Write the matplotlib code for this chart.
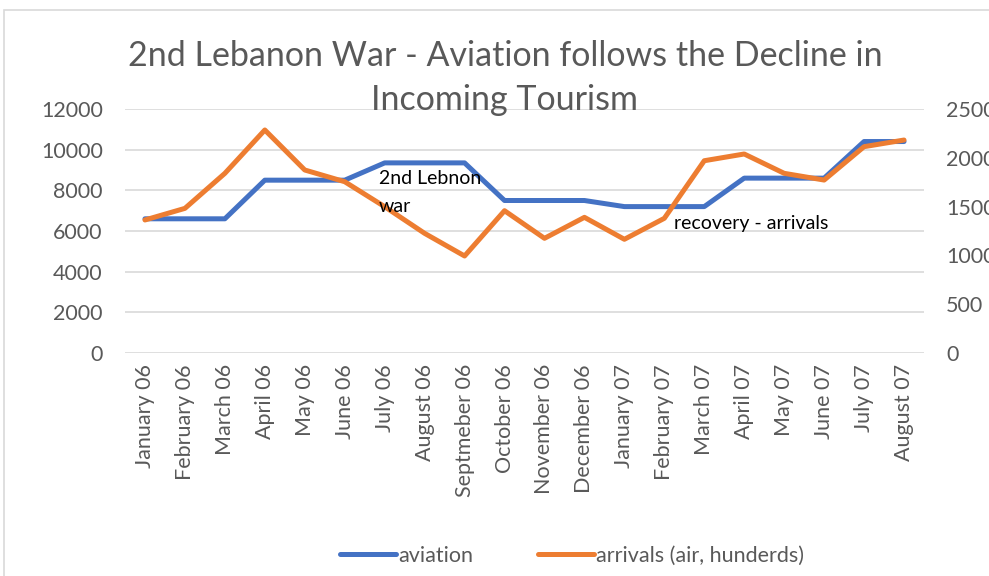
import matplotlib.pyplot as plt
from matplotlib.patches import Rectangle

months = ['January 06', 'February 06', 'March 06', 'April 06', 'May 06', 'June 06',
          'July 06', 'August 06', 'Septmeber 06', 'October 06', 'November 06',
          'December 06', 'January 07', 'February 07', 'March 07', 'April 07',
          'May 07', 'June 07', 'July 07', 'August 07']
aviation = [6600, 6600, 6600, 8500, 8500, 8500, 9350, 9350, 9350, 7500, 7500,
            7500, 7200, 7200, 7200, 8600, 8600, 8600, 10400, 10400]
arrivals = [1363, 1482, 1841, 2285, 1875, 1755, 1499, 1226, 994, 1458, 1175,
            1390, 1165, 1380, 1970, 2039, 1841, 1772, 2114, 2182]

plt.rcParams['font.family'] = ['Lato', 'DejaVu Sans']
grey = '#595959'

fig = plt.figure(figsize=(9.89, 5.76), dpi=100)
fig.patches.append(Rectangle((4 / 989, -0.1), 1.2, 1 - 10 / 576 + 0.1,
                             transform=fig.transFigure, fill=False,
                             edgecolor='#d9d9d9', linewidth=1.2))

ax1 = fig.add_axes([125 / 989, 1 - 353 / 576, (924 - 125) / 989, (353 - 109) / 576])
x = range(len(months))
ax1.plot(x, aviation, color='#4472C4', linewidth=3.6, label='aviation',
         solid_capstyle='round', zorder=3)
ax1.set_ylim(0, 12000)
ax1.set_xlim(-0.5, len(months) - 0.5)
ax1.set_yticks(range(0, 12001, 2000))
ax1.yaxis.grid(True, color='#d9d9d9', linewidth=1.2)
ax1.set_axisbelow(True)
for s in ax1.spines.values():
    s.set_visible(False)
ax1.set_xticks(list(x))
ax1.set_xticklabels(months, rotation=90, color=grey)
ax1.tick_params(axis='both', length=0, labelsize=15.5, labelcolor=grey)
ax1.tick_params(axis='y', pad=16)
ax1.tick_params(axis='x', pad=8)

ax2 = ax1.twinx()
ax2.plot(x, arrivals, color='#ED7D31', linewidth=3.6, label='arrivals (air, hunderds)',
         solid_capstyle='round', zorder=4)
ax2.set_ylim(0, 2500)
ax2.set_yticks(range(0, 2501, 500))
for s in ax2.spines.values():
    s.set_visible(False)
ax2.tick_params(axis='y', length=0, labelsize=15.5, labelcolor=grey, pad=16)

# annotations (drawn on the top axes so they sit above both lines)
ax2.text(5.85, 7900 * 2500 / 12000, '2nd Lebnon\nwar', fontsize=14, color='black',
         va='center', ha='left', linespacing=1.75, zorder=6)
ax2.text(13.25, 6350 * 2500 / 12000, 'recovery - arrivals', fontsize=14, color='black',
         va='center', ha='left', zorder=6)

fig.text(505 / 989, 1 - 78 / 576, '2nd Lebanon War - Aviation follows the Decline in\nIncoming Tourism',
         ha='center', va='center', fontsize=24.5, color=grey, linespacing=1.45)

h1, l1 = ax1.get_legend_handles_labels()
h2, l2 = ax2.get_legend_handles_labels()
fig.legend(h1 + h2, l1 + l2, loc='center', bbox_to_anchor=(572 / 989, 1 - 556 / 576),
           ncol=2, frameon=False, fontsize=15.5, labelcolor=grey, handlelength=2.6,
           handletextpad=0.1, columnspacing=3.0)

fig.savefig('out.png', dpi=100)
